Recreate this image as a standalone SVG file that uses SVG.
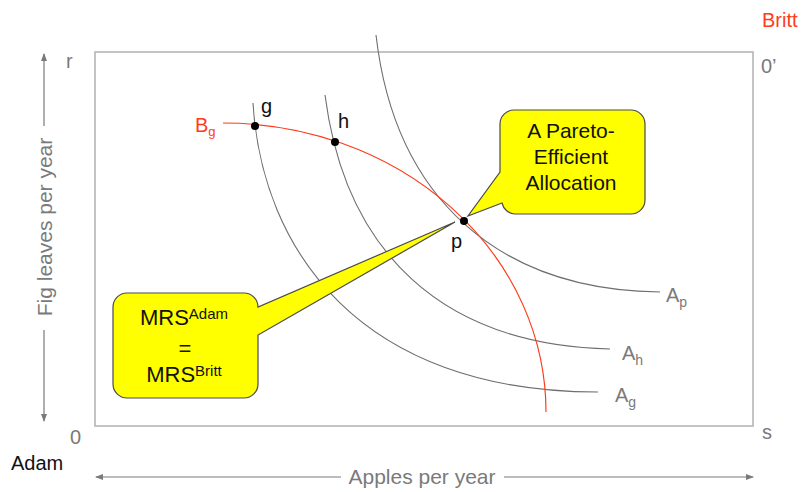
<svg xmlns="http://www.w3.org/2000/svg" width="803" height="492" viewBox="0 0 803 492">
<style>
text{font-family:"Liberation Sans",Arial,sans-serif}
.ax{fill:#7a7a7a;font-size:20px}
.axl{fill:#7a7a7a;font-size:21px}
.curve{fill:none;stroke:#6e6e6e;stroke-width:1.1}
.red{fill:none;stroke:#ff3b1a;stroke-width:1.2}
.dot{fill:#000}
.pt{fill:#111;font-size:20px}
.call{fill:#ffff00;stroke:#4a4a4a;stroke-width:1.2}
.ct{fill:#111;font-size:21px;text-anchor:middle}
.mrs{fill:#111;font-size:22px;text-anchor:middle}
.arr{stroke:#7a7a7a;stroke-width:1.2;fill:none}
</style>
<defs>
<marker id="ah" markerWidth="8" markerHeight="8" refX="7" refY="4" orient="auto-start-reverse" markerUnits="userSpaceOnUse">
<path d="M0,1 L8,4 L0,7 Z" fill="#7a7a7a"/>
</marker>
</defs>
<rect x="95" y="52" width="658" height="374" fill="none" stroke="#b0b0b0" stroke-width="1.5"/>
<g id="axes">
<line class="arr" x1="44" y1="126" x2="44" y2="54" marker-end="url(#ah)"/>
<line class="arr" x1="44" y1="330" x2="44" y2="421" marker-end="url(#ah)"/>
<text class="axl" transform="translate(52,227) rotate(-90)" text-anchor="middle">Fig leaves per year</text>
<line class="arr" x1="341" y1="477" x2="96" y2="477" marker-end="url(#ah)"/>
<line class="arr" x1="504" y1="477" x2="753" y2="477" marker-end="url(#ah)"/>
<text class="axl" x="422" y="484" text-anchor="middle">Apples per year</text>
<text class="ax" x="66" y="68">r</text>
<text class="ax" x="761" y="73">0’</text>
<text class="ax" x="70" y="444">0</text>
<text class="ax" x="762" y="439">s</text>
<text x="762" y="27" fill="#ff3b1a" font-size="20">Britt</text>
<text x="11" y="470" fill="#111" font-size="20">Adam</text>
</g>
<g id="connectors">
<path id="Ag-curve" class="curve" d="M253,103 C262,250 360,392 598,392"/>
<path id="Ah-curve" class="curve" d="M325,95 C345,250 440,345 610,349"/>
<path id="Ap-curve" class="curve" d="M376,35 C395,200 500,290 660,292"/>
<path id="Bg-curve" class="red" d="M223,123 A323,289 0 0 1 546,412"/>
</g>
<g id="labels">
<text x="195" y="132" fill="#ff3b1a" font-size="20">B<tspan font-size="13" dy="4">g</tspan></text>
<text class="ax" x="615" y="402">A<tspan font-size="14" dy="5">g</tspan></text>
<text class="ax" x="622" y="360">A<tspan font-size="14" dy="5">h</tspan></text>
<text class="ax" x="666" y="302">A<tspan font-size="14" dy="5">p</tspan></text>
</g>
<g id="point-g"><circle class="dot" cx="255" cy="126" r="4"/><text class="pt" x="261" y="113">g</text></g>
<g id="point-h"><circle class="dot" cx="335" cy="142" r="4"/><text class="pt" x="338" y="128">h</text></g>
<g id="point-p"><circle class="dot" cx="464" cy="221" r="4"/><text class="pt" x="451" y="248">p</text></g>
<g id="callout-pareto">
<path class="call" d="M514,110 H631 A14,14 0 0 1 645,124 V200 A14,14 0 0 1 631,214 H515 A14,14 0 0 1 502,203 L468,216 L500,172 V124 A14,14 0 0 1 514,110 Z"/>
<text class="ct" x="571" y="138">A Pareto-</text>
<text class="ct" x="571" y="164">Efficient</text>
<text class="ct" x="571" y="190">Allocation</text>
</g>
<g id="callout-mrs">
<path class="call" d="M127,293 H244 A14,14 0 0 1 258,307 L455,222 L258,335 V384 A14,14 0 0 1 244,398 H127 A14,14 0 0 1 113,384 V307 A14,14 0 0 1 127,293 Z"/>
<text class="mrs" x="184" y="325">MRS<tspan font-size="15" dy="-6">Adam</tspan></text>
<text class="mrs" x="185" y="356">=</text>
<text class="mrs" x="184" y="382">MRS<tspan font-size="15" dy="-6">Britt</tspan></text>
</g>
</svg>
